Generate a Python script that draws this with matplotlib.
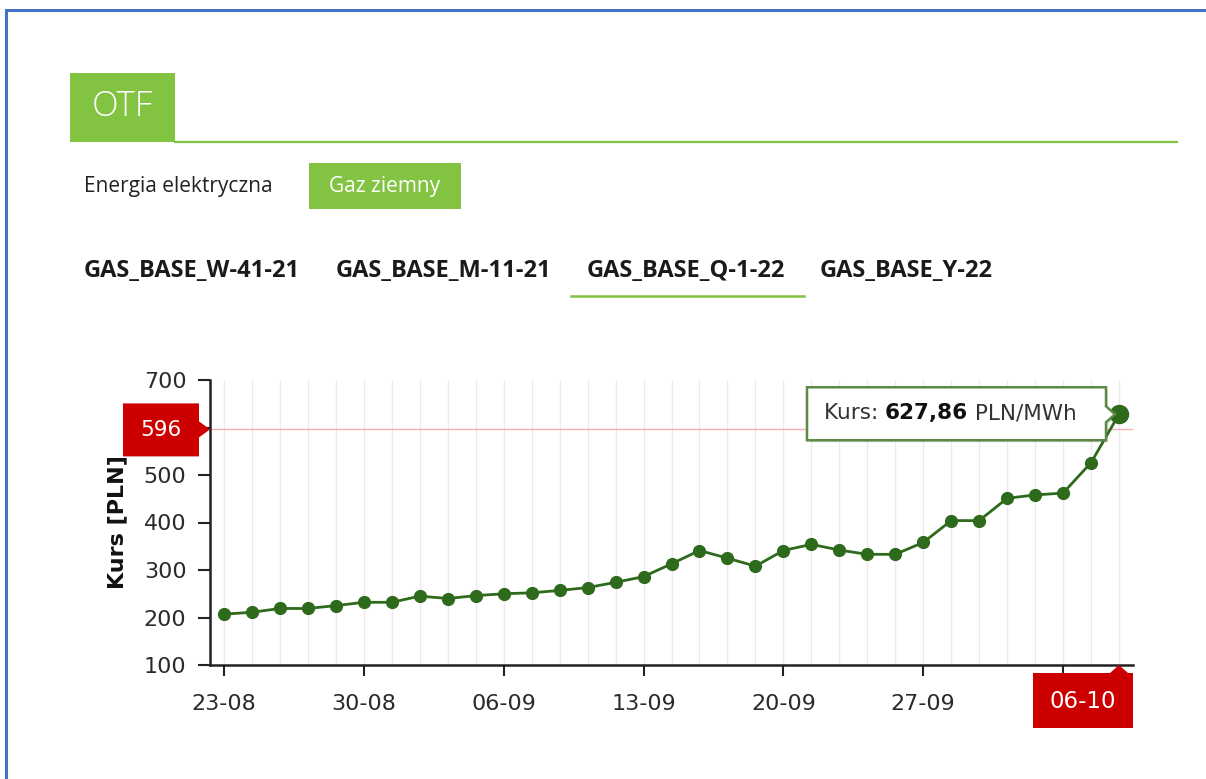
import matplotlib.pyplot as plt
from matplotlib.patches import Polygon, Rectangle

# trading days (weekdays) 23-08-2021 .. 06-10-2021
dates = ['23-08', '24-08', '25-08', '26-08', '27-08',
         '30-08', '31-08', '01-09', '02-09', '03-09',
         '06-09', '07-09', '08-09', '09-09', '10-09',
         '13-09', '14-09', '15-09', '16-09', '17-09',
         '20-09', '21-09', '22-09', '23-09', '24-09',
         '27-09', '28-09', '29-09', '30-09', '01-10',
         '04-10', '05-10', '06-10']
prices = [207, 211, 219, 219, 225, 232, 232, 245, 240, 246,
          250, 252, 257, 263, 274, 286, 313, 341, 325, 308,
          341, 354, 342, 333, 333, 358, 404, 404, 451, 458,
          462, 526, 627.86]
ref_price = 596
yticks = [100, 200, 300, 400, 500, 600, 700]
products = ['GAS_BASE_W-41-21', 'GAS_BASE_M-11-21', 'GAS_BASE_Q-1-22', 'GAS_BASE_Y-22']

W, H = 1206, 779
GREEN_UI = '#82c341'
LINE = '#2e6a1c'
RED = '#cc0000'

fig = plt.figure(figsize=(W / 100, H / 100), dpi=100)
ax = fig.add_axes([210 / W, 1 - 665 / H, 923 / W, 285 / H])

x = list(range(len(dates)))
ax.plot(x[:-1], prices[:-1], color=LINE, lw=2, marker='o', ms=8.5, zorder=3)
ax.plot(x[-2:], prices[-2:], color=LINE, lw=2, zorder=3)
ax.plot(x[-1], prices[-1], 'o', color=LINE, ms=13, zorder=4)
ax.axhline(ref_price, color='#f5b0b0', lw=1, zorder=2)

ax.set_xlim(-0.5, len(dates) - 0.5)
ax.set_ylim(100, 700)
ax.set_yticks(yticks)
# labels hidden under the red crosshair flags are left blank
ax.set_yticklabels(['' if v == 600 else str(v) for v in yticks])
ax.set_xticks(x[::5])
ax.set_xticklabels([d if d != '04-10' else '' for d in dates[::5]])
ax.set_xticks(x, minor=True)
ax.grid(True, axis='x', which='both', color='#ebebeb', lw=1, zorder=0)
for s in ['top', 'right']:
    ax.spines[s].set_visible(False)
for s in ['left', 'bottom']:
    ax.spines[s].set_color('#222222')
    ax.spines[s].set_linewidth(1.8)
ax.tick_params(axis='y', length=9, width=1.5, color='#222222', labelsize=16,
               labelcolor='#2a2a2a', pad=8)
ax.tick_params(axis='x', which='major', length=8, width=1.5, color='#222222',
               labelsize=16, labelcolor='#2a2a2a', pad=13)
ax.tick_params(axis='x', which='minor', length=0)
ax.set_ylabel('Kurs [PLN]', fontsize=16, fontweight='bold', labelpad=12, color='#111111')

# overlay in pixel coordinates for the page decorations
ov = fig.add_axes([0, 0, 1, 1], zorder=5)
ov.set_xlim(0, W)
ov.set_ylim(H, 0)
ov.axis('off')
ov.patch.set_alpha(0)


def to_px(xv, yv):
    px, py = ax.transData.transform((xv, yv))
    return px, H - py


# page frame
ov.plot([6, W], [10, 10], color='#4472c4', lw=2.2)
ov.plot([6, 6], [10, H], color='#4472c4', lw=2.2)

# OTF tab
ov.add_patch(Rectangle((70, 73), 105, 69, color=GREEN_UI, lw=0))
ov.plot([175, 1177], [142, 142], color=GREEN_UI, lw=1.6)
ov.text(122, 107, 'OTF', color='white', fontsize=25, fontweight='light',
        family='Open Sans', ha='center', va='center')

ov.text(84, 186, 'Energia elektryczna', color='#222222', fontsize=15,
        family='Open Sans', ha='left', va='center')
ov.add_patch(Rectangle((309, 163), 152, 46, color=GREEN_UI, lw=0))
ov.text(385, 186, 'Gaz ziemny', color='white', fontsize=15,
        family='Open Sans', ha='center', va='center')

tab_x = [84, 336, 587, 820]
for tx, name in zip(tab_x, products):
    ov.text(tx, 271, name, color='#1a1a1a', fontsize=17, fontweight='bold',
            family='Open Sans', ha='left', va='center')
ov.plot([571, 804], [296, 296], color=GREEN_UI, lw=1.8)

# current price flag on y axis
_, yr = to_px(-0.5, ref_price)
xl = 210
ov.add_patch(Polygon([(123, yr - 26), (199, yr - 26), (199, yr - 8), (xl, yr),
                      (199, yr + 8), (199, yr + 27), (123, yr + 27)],
                     closed=True, color=RED, lw=0))
ov.text(161, yr + 1, f'{ref_price}', color='white', fontsize=15.5,
        ha='center', va='center')

# crosshair date flag on x axis
xp, yp = to_px(x[-1], prices[-1])
_, yb = to_px(x[-1], 100)
ov.add_patch(Polygon([(1033, yb + 8), (xp - 9, yb + 8), (xp, yb), (xp + 9, yb + 8),
                      (1133, yb + 8), (1133, yb + 63), (1033, yb + 63)],
                     closed=True, color=RED, lw=0))
ov.text(1083, yb + 36, dates[-1], color='white', fontsize=16.5,
        ha='center', va='center')

# tooltip
bx0, bx1 = 807, xp - 13
by0, by1 = yp - 27, yp + 26
shadow = [(bx0 + 2, by0 + 2), (bx1 + 2, by0 + 2), (bx1 + 2, yp - 6), (bx1 + 11, yp + 2),
          (bx1 + 2, yp + 10), (bx1 + 2, by1 + 2), (bx0 + 2, by1 + 2)]
ov.add_patch(Polygon(shadow, closed=True, color='#000000', alpha=0.12, lw=0))
box = [(bx0, by0), (bx1, by0), (bx1, yp - 8), (bx1 + 9, yp), (bx1, yp + 8),
       (bx1, by1), (bx0, by1)]
ov.add_patch(Polygon(box, closed=True, facecolor='white', edgecolor='#5a8a45', lw=1.8))

renderer = fig.canvas.get_renderer()
cx = 824
parts = [('Kurs: ', 'normal', '#333333'),
         (f'{prices[-1]:.2f}'.replace('.', ','), 'bold', '#111111'),
         (' PLN/MWh', 'normal', '#333333')]
for s, wgt, col in parts:
    t = ov.text(cx, yp - 1, s, fontsize=15.5, fontweight=wgt, color=col,
                ha='left', va='center')
    cx = t.get_window_extent(renderer).x1

fig.savefig('out.png', dpi=100)
